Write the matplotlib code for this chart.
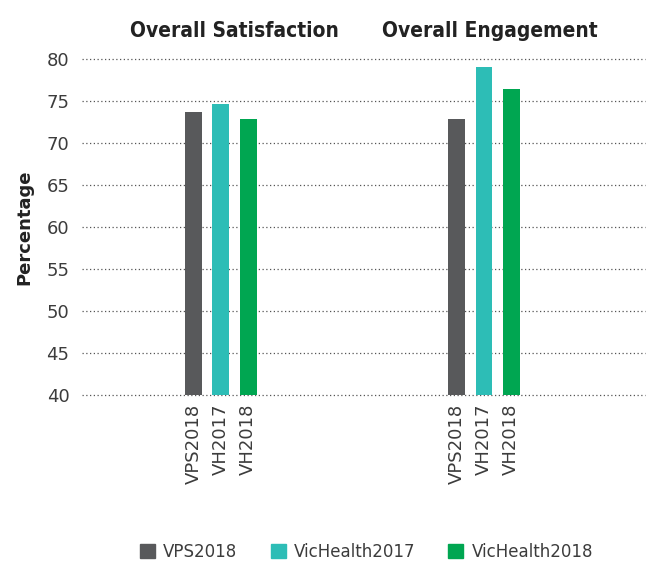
import numpy as np
import matplotlib
matplotlib.use("Agg")
import matplotlib.pyplot as plt
from matplotlib.patches import Patch

# survey measures and the three comparison series
groups = ["Overall Satisfaction", "Overall Engagement"]
series = ["VPS2018", "VicHealth2017", "VicHealth2018"]
short_labels = ["VPS2018", "VH2017", "VH2018"]
vps2018 = [73.7, 72.9]
vh2017 = [74.7, 79.1]
vh2018 = [72.9, 76.5]
colors = ["#58595b", "#2dbdb6", "#00a651"]

yticks = [40, 45, 50, 55, 60, 65, 70, 75, 80]

text_color = "#3c3c3c"
plt.rcParams["font.family"] = ["DejaVu Sans"]

fig = plt.figure(figsize=(6.46, 5.62), dpi=100)
ax = fig.add_axes([82 / 646, 1 - 395.3 / 562, (645 - 82) / 646, 336 / 562])

x = np.arange(len(groups))
width = 0.064
offset = 0.104
for i, vals in enumerate([vps2018, vh2017, vh2018]):
    ax.bar(x + (i - 1) * offset, vals, width=width, color=colors[i], zorder=3)

ax.set_ylim(40, 80)
ax.set_xlim(-0.528, 1.612)
ax.set_yticks(yticks)
ax.set_yticklabels([str(t) for t in yticks], fontsize=13, color=text_color)
ax.tick_params(axis="y", length=0, pad=9)

# one rotated tick label under each bar
xt = np.concatenate([x + (i - 1) * offset for i in range(3)])
xl = [short_labels[i] for i in range(3) for _ in groups]
ax.set_xticks(xt)
ax.set_xticklabels(xl, rotation=90, fontsize=13, color=text_color, va="top")
ax.tick_params(axis="x", length=0, pad=6)

ax.yaxis.grid(True, linestyle=(0, (1, 2)), color="#555555", linewidth=0.9)
for gl in ax.get_ygridlines():
    gl.set_clip_on(False)
ax.set_axisbelow(True)
for s in ax.spines.values():
    s.set_visible(False)

ax.set_ylabel("Percentage", fontsize=13, fontweight="bold", color="#222222")
ax.yaxis.set_label_coords(-0.087, 0.5)

# group headings above the plot
for gx, name in zip([0.05, 1.023], groups):
    ax.text(gx, 1.0 + 22 / 336, name, transform=ax.get_xaxis_transform(),
            ha="center", va="baseline", fontsize=15, fontweight="bold",
            fontstretch="condensed", color="#222222")

handles = [Patch(color=c) for c in colors]
fig.legend(handles, series, loc="lower left", bbox_to_anchor=(125 / 646, -0.025),
           ncol=3, frameon=False, fontsize=12, handlelength=0.9,
           handleheight=0.9, handletextpad=0.48, columnspacing=2.0,
           labelcolor=text_color)

fig.savefig("out.png", dpi=100)
